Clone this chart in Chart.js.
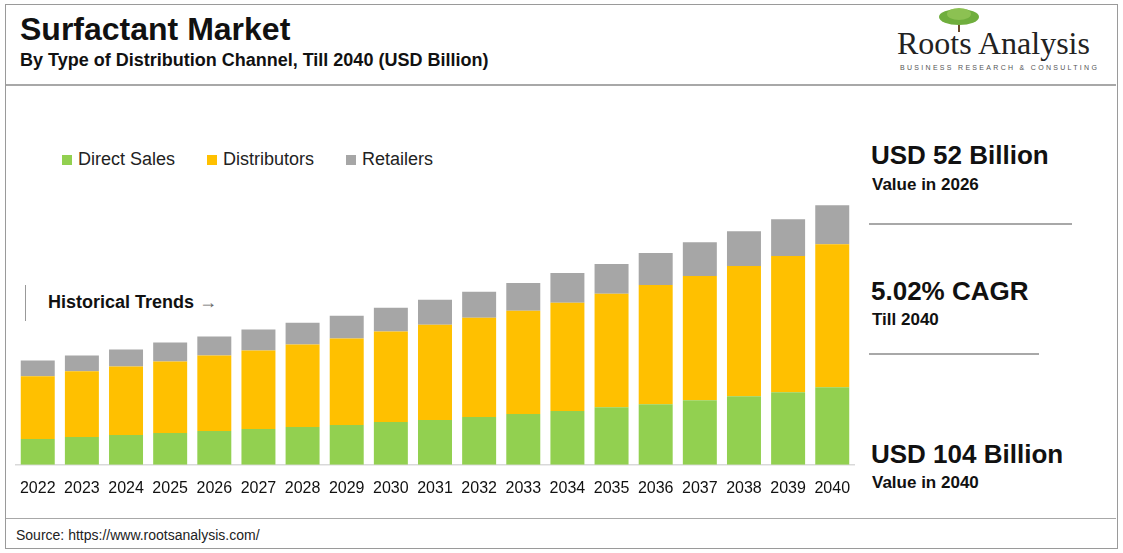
<!DOCTYPE html>
<html lang="en">
<head>
<meta charset="UTF-8">
<title>Surfactant Market</title>
<script src="https://cdn.jsdelivr.net/npm/chart.js"></script>
<style>
  body { margin: 0; width: 1123px; height: 553px; background: #fff; font-family: Arial, "Liberation Sans", sans-serif; position: relative; overflow: hidden; }
  .frame { position: absolute; left: 5px; top: 4px; width: 1111px; height: 543px; border: 1px solid #9a9a9a; }
  .abs { position: absolute; }
  h1 { position: absolute; left: 20px; top: 11px; margin: 0; font-size: 32px; font-weight: bold; color: #111; }
  .sub { left: 20px; top: 50px; font-size: 18px; font-weight: bold; color: #111; }
  .hr { position: absolute; height: 2px; background: #a8a8a8; }
  .legend { left: 62px; top: 149px; font-size: 18px; color: #222; display: flex; gap: 32px; }
  .legend span i { display: inline-block; width: 10px; height: 10px; margin-right: 6px; }
  .big { font-size: 26px; font-weight: bold; color: #111; left: 871px; }
  .small { font-size: 17px; font-weight: bold; color: #111; left: 872px; }
  .logo { left: 897px; top: 25px; font-family: "Liberation Serif", "DejaVu Serif", serif; font-size: 32px; color: #222; }
  .tag { left: 900px; top: 64px; font-size: 7px; letter-spacing: 2.3px; color: #555; }
</style>
</head>
<body>
<div class="frame"></div>
<h1>Surfactant Market</h1>
<div class="abs sub">By Type of Distribution Channel, Till 2040 (USD Billion)</div>
<svg class="abs" style="left:935px;top:6px" width="48" height="26"><path d="M24 26 L24 14" stroke="#6b4a2a" stroke-width="2"/><ellipse cx="24" cy="11" rx="20" ry="8" fill="#6fae3d"/><ellipse cx="24" cy="8" rx="12" ry="6" fill="#8cc152"/></svg>
<div class="abs logo">Roots Analysis</div>
<div class="abs tag">BUSINESS RESEARCH &amp; CONSULTING</div>
<div class="hr" style="left:6px;top:84px;width:1110px;"></div>
<div class="hr" style="left:6px;top:518px;width:1110px;height:1px"></div>
<div class="abs" style="left:16px;top:527px;font-size:14px;color:#222">Source: https://www.rootsanalysis.com/</div>

<div class="abs legend">
  <span><i style="background:#92d050"></i>Direct Sales</span>
  <span><i style="background:#ffc000"></i>Distributors</span>
  <span><i style="background:#a6a6a6"></i>Retailers</span>
</div>

<div class="abs" style="left:25px;top:285px;width:1px;height:36px;background:#999"></div>
<div class="abs" style="left:48px;top:292px;font-size:18px;font-weight:bold;color:#111">Historical Trends <span style="font-weight:normal;color:#666">&rarr;</span></div>

<div class="abs big" style="top:140px">USD 52 Billion</div>
<div class="abs small" style="top:175px">Value in 2026</div>
<div class="hr" style="left:869px;top:223px;width:203px;"></div>
<div class="abs big" style="top:276px">5.02% CAGR</div>
<div class="abs small" style="top:310px">Till 2040</div>
<div class="hr" style="left:869px;top:353px;width:170px;"></div>
<div class="abs big" style="top:439px">USD 104 Billion</div>
<div class="abs small" style="top:473px">Value in 2040</div>

<div class="abs" style="left:14px;top:184px;width:842px;height:320px"><canvas id="c"></canvas></div>

<script>
const years = ['2022','2023','2024','2025','2026','2027','2028','2029','2030','2031','2032','2033','2034','2035','2036','2037','2038','2039','2040'];
const directSales = [10.4,11.2,12,12.8,13.6,14.4,15.2,16,17.2,18,19.2,20.4,21.6,23.2,24.4,26,27.6,29.2,31.2];
const distributors = [25.2,26.4,27.6,28.8,30.4,31.6,33.2,34.8,36.4,38.4,40,41.6,43.6,45.6,48,50,52.4,54.8,57.6];
const retailers = [6.4,6.4,6.8,7.6,7.6,8.4,8.8,9.2,9.6,10,10.4,11.2,12,12,12.8,13.6,14,14.8,15.6];

new Chart(document.getElementById('c'), {
  type: 'bar',
  data: {
    labels: years,
    datasets: [
      { label: 'Direct Sales', data: directSales, backgroundColor: '#92d050' },
      { label: 'Distributors', data: distributors, backgroundColor: '#ffc000' },
      { label: 'Retailers', data: retailers, backgroundColor: '#a6a6a6' }
    ]
  },
  options: {
    responsive: true, maintainAspectRatio: false, animation: false,
    layout: { padding: 0 },
    plugins: { legend: { display: false }, tooltip: { enabled: false } },
    datasets: { bar: { categoryPercentage: 0.77, barPercentage: 1 } },
    scales: {
      x: { stacked: true, grid: { display: false }, border: { color: '#d9d9d9', width: 1.5 },
           ticks: { color: '#111', font: { size: 16, family: 'Arial' }, maxRotation: 0, autoSkip: false, padding: 6 } },
      y: { stacked: true, display: false, min: 0, max: 113 }
    }
  }
});
</script>
</body>
</html>
